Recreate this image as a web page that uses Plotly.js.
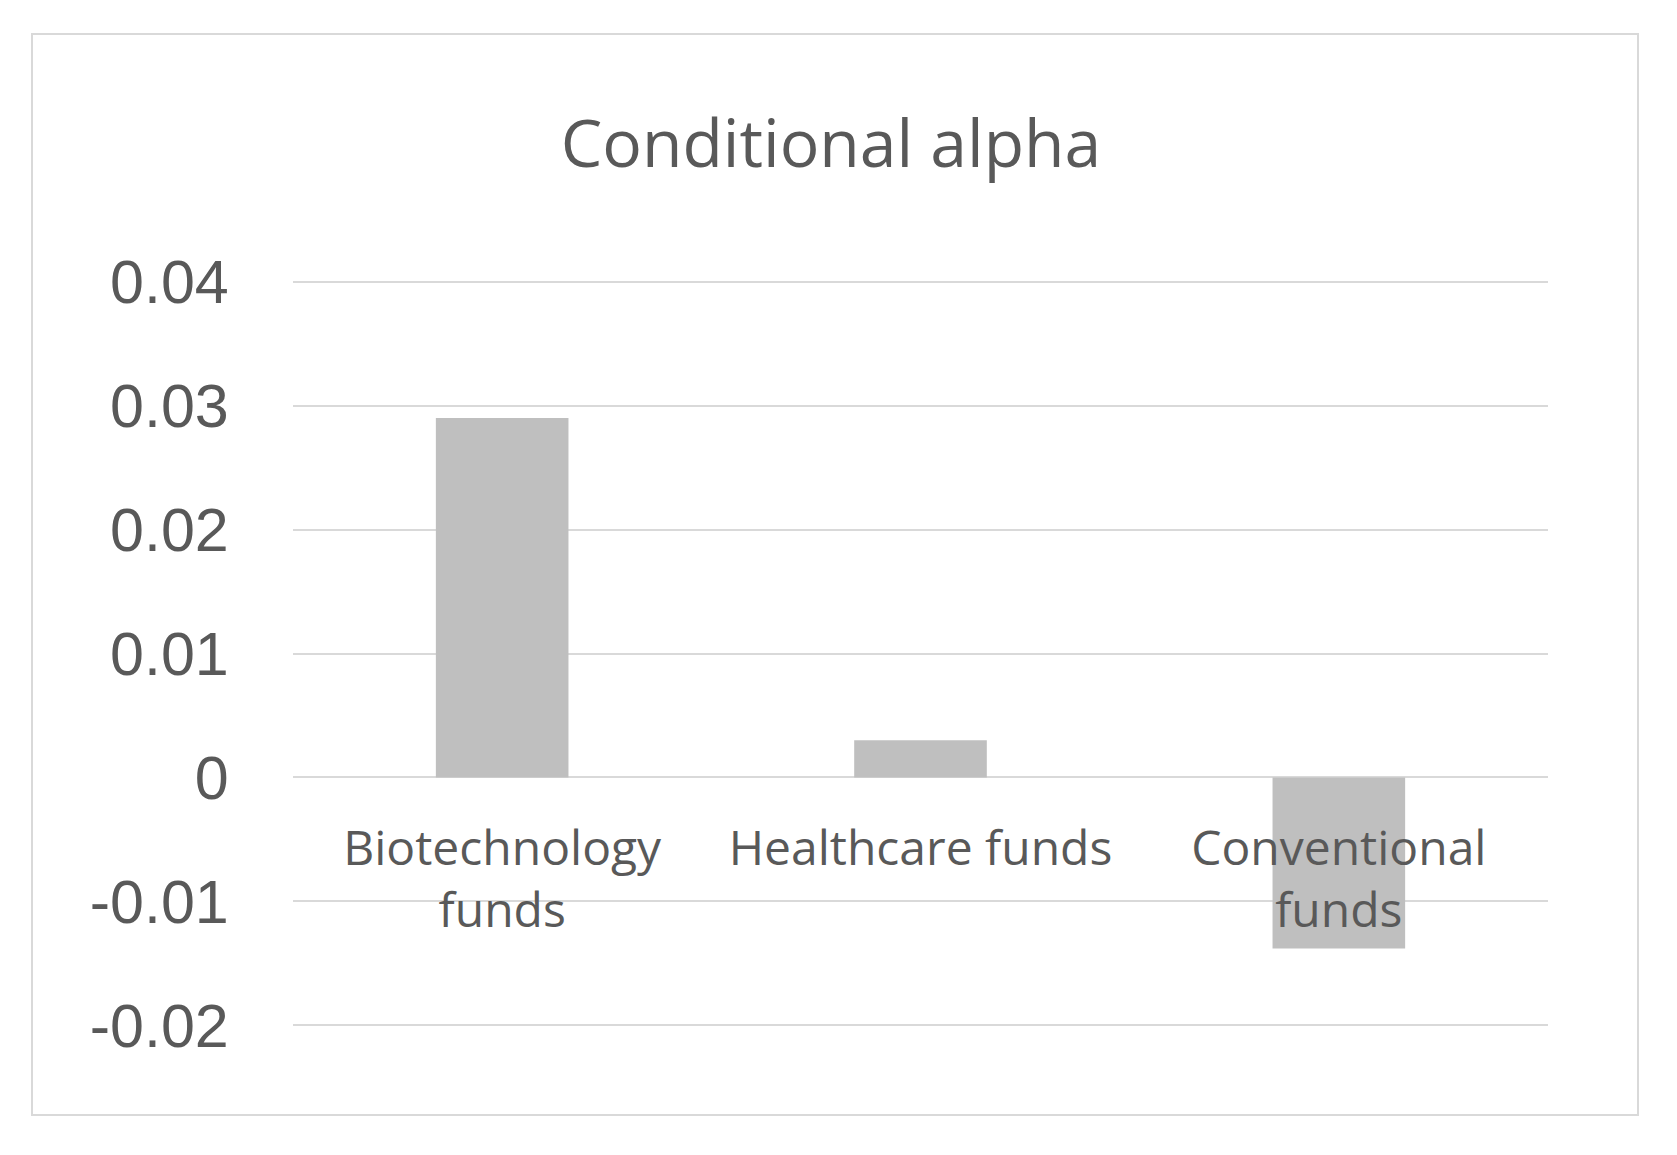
<!DOCTYPE html>
<html>
<head>
<meta charset="utf-8">
<script src="https://cdn.plot.ly/plotly-3.0.1.min.js"></script>
<style>
  body { margin: 0; background: #fff; }
  #chart { width: 1677px; height: 1155px; }
  #frame {
    position: absolute; left: 31px; top: 33px;
    width: 1604px; height: 1079px;
    border: 2px solid #d9d9d9;
    pointer-events: none;
  }
</style>
</head>
<body>
<div id="chart"></div>
<div id="frame"></div>
<script>
// values
const categories = ['Biotechnology funds', 'Healthcare funds', 'Conventional funds'];
const categoryLabels = ['Biotechnology<br>funds', 'Healthcare funds', 'Conventional<br>funds'];
const alphaValues = [0.029, 0.003, -0.0138];
const yTickVals = [-0.02, -0.01, 0, 0.01, 0.02, 0.03, 0.04];
const yTickText = ['-0.02', '-0.01', '0', '0.01', '0.02', '0.03', '0.04'];

const yRange = [-0.022, 0.042];
// put the category axis on the zero line, like Excel does
const zeroPos = (0 - yRange[0]) / (yRange[1] - yRange[0]);

const textColor = '#595959';
const gridColor = '#d9d9d9';

const trace = {
  type: 'bar',
  x: categories,
  y: alphaValues,
  marker: { color: '#bfbfbf' },
  hoverinfo: 'x+y'
};

const layout = {
  width: 1677,
  height: 1155,
  margin: { t: 257, r: 129, b: 105, l: 293 },
  paper_bgcolor: '#ffffff',
  plot_bgcolor: '#ffffff',
  showlegend: false,
  bargap: 0.683,
  title: {
    text: 'Conditional alpha',
    font: { family: 'Open Sans, sans-serif', size: 66, color: textColor },
    xref: 'container',
    x: 0.4955,
    xanchor: 'center',
    yref: 'container',
    y: 0.875,
    yanchor: 'middle'
  },
  xaxis: {
    type: 'category',
    anchor: 'free',
    position: zeroPos,
    tickvals: categories,
    ticktext: categoryLabels,
    showgrid: false,
    showline: false,
    zeroline: false,
    ticks: 'outside',
    ticklen: 29,
    tickcolor: 'rgba(0,0,0,0)',
    tickfont: { family: 'Open Sans, sans-serif', size: 48, color: textColor }
  },
  yaxis: {
    range: yRange,
    tickvals: yTickVals,
    ticktext: yTickText,
    showgrid: true,
    gridcolor: gridColor,
    gridwidth: 2,
    zeroline: true,
    zerolinecolor: gridColor,
    zerolinewidth: 2,
    showline: false,
    ticks: 'outside',
    ticklen: 51,
    tickcolor: 'rgba(0,0,0,0)',
    tickfont: { family: 'Liberation Sans, Arial, sans-serif', size: 61, color: textColor }
  }
};

Plotly.newPlot('chart', [trace], layout, { displayModeBar: false, staticPlot: true });
</script>
</body>
</html>
